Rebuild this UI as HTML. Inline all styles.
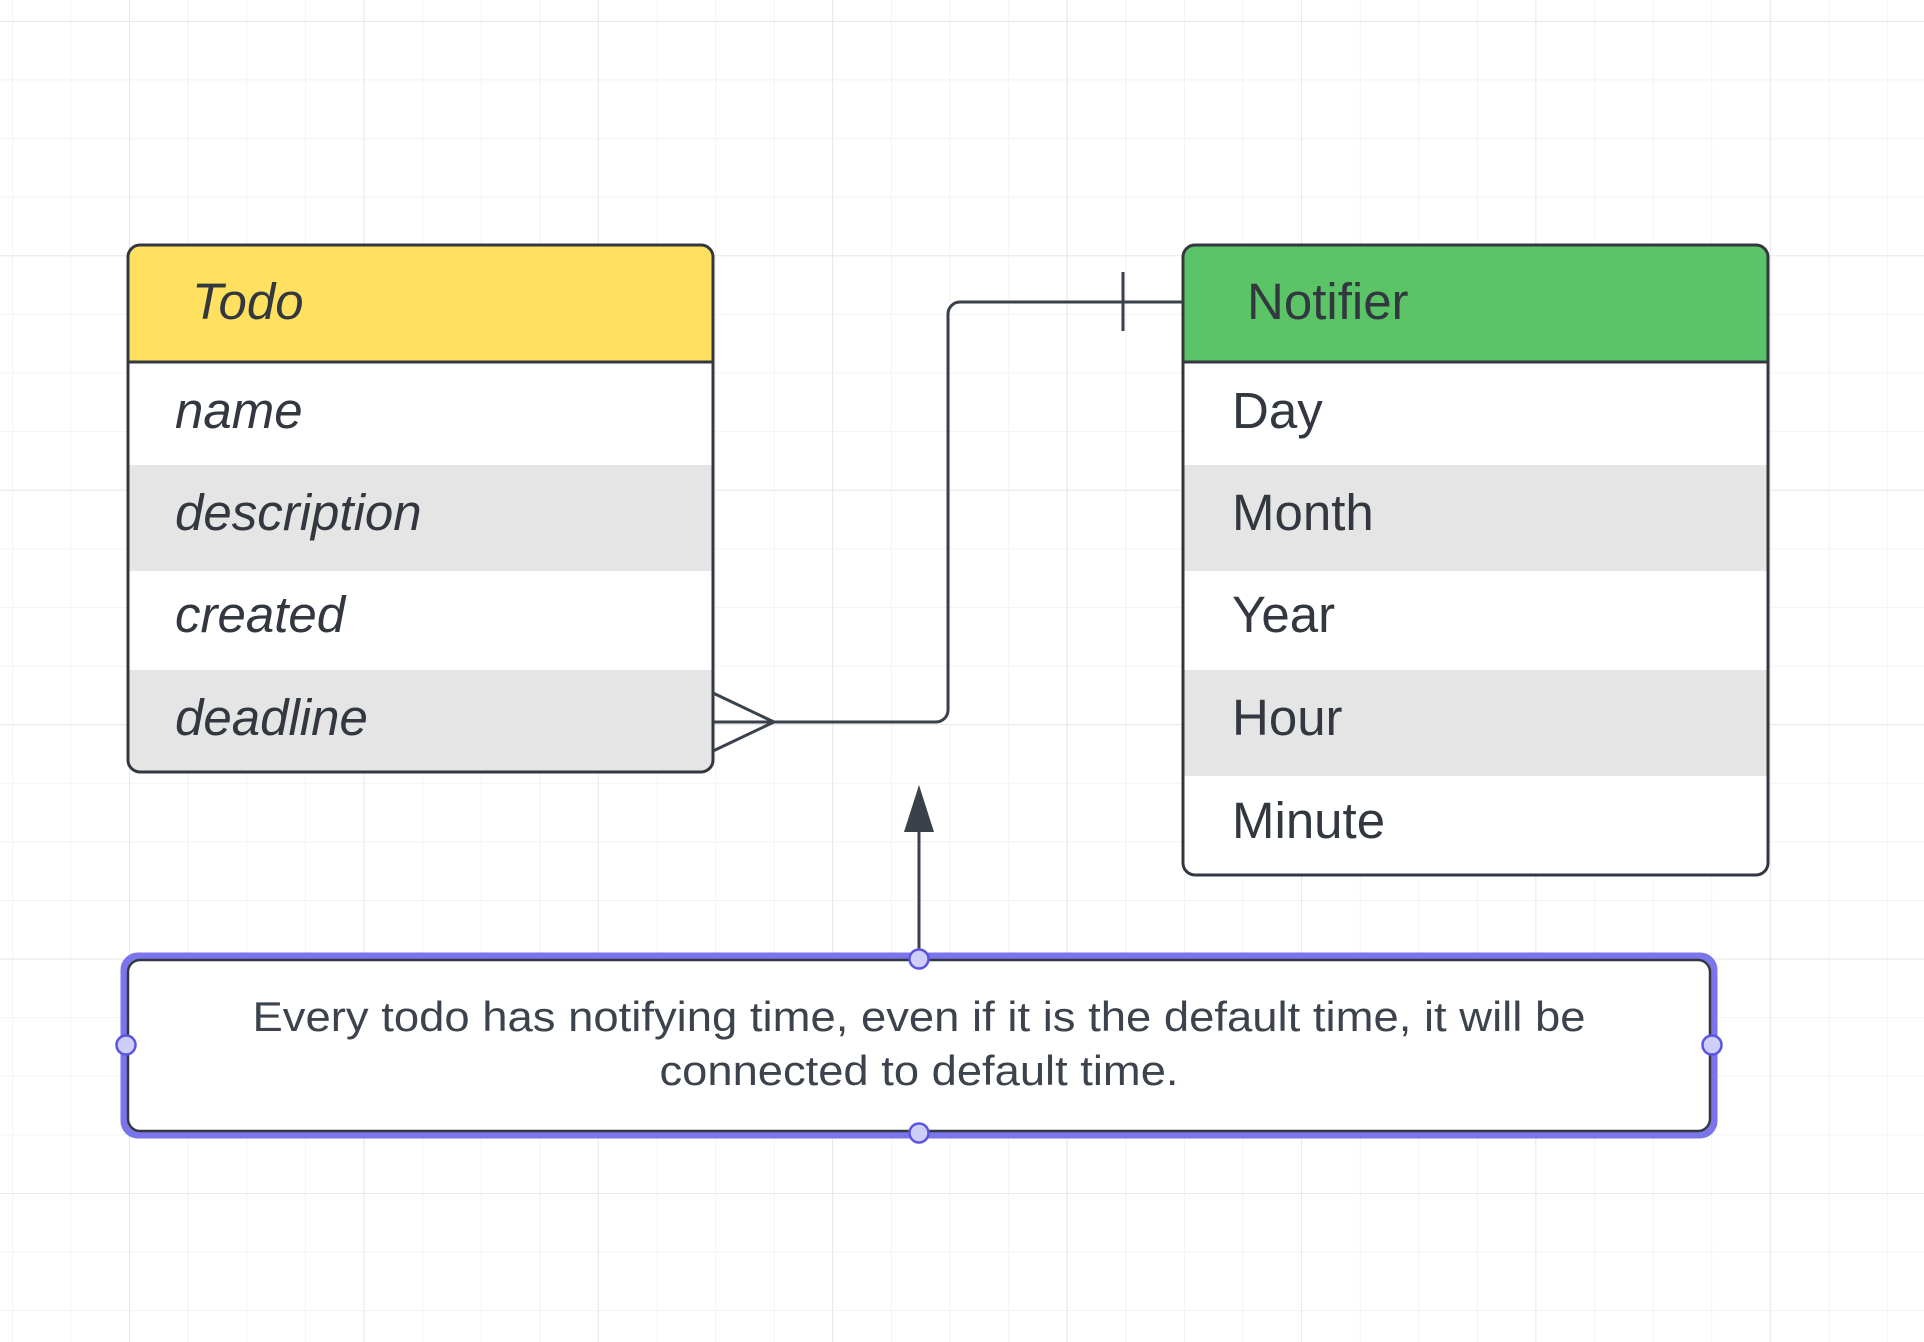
<!DOCTYPE html>
<html><head><meta charset="utf-8"><style>
html,body{margin:0;padding:0;background:#fff;}
body{width:1924px;height:1342px;overflow:hidden;position:relative;font-family:"Liberation Sans",sans-serif;}
svg{position:absolute;left:0;top:0;}
</style></head><body>
<svg width="1924" height="1342" viewBox="0 0 1924 1342" xmlns="http://www.w3.org/2000/svg">
<defs>
<pattern id="minor" x="12" y="21" width="58.6" height="58.6" patternUnits="userSpaceOnUse">
<path d="M0 0H58.6M0 0V58.6" stroke="#f0f0f0" stroke-width="1.5" fill="none"/>
</pattern>
<pattern id="major" x="129" y="21" width="234.4" height="234.4" patternUnits="userSpaceOnUse">
<path d="M0 0H234.4M0 0V234.4" stroke="#e3e3e3" stroke-width="1.5" fill="none"/>
</pattern>
</defs>
<rect width="1924" height="1342" fill="url(#minor)"/>
<rect width="1924" height="1342" fill="url(#major)"/>

<g>
<path d="M128 362V257a12 12 0 0 1 12-12H701a12 12 0 0 1 12 12V362Z" fill="#ffe15f"/>
<rect x="128" y="362" width="585" height="103" fill="#fff"/>
<rect x="128" y="465" width="585" height="106" fill="#e5e5e5"/>
<rect x="128" y="571" width="585" height="99" fill="#fff"/>
<path d="M128 670H713V760a12 12 0 0 1-12 12H140a12 12 0 0 1-12-12Z" fill="#e5e5e5"/>
<rect x="128" y="245" width="585" height="527" rx="12" fill="none" stroke="#333840" stroke-width="3"/>
<line x1="128" y1="362" x2="713" y2="362" stroke="#333840" stroke-width="3"/>
<g font-family="Liberation Sans, sans-serif" font-style="italic" font-size="51" fill="#333840">
<text x="192" y="319">Todo</text>
<text x="175" y="428">name</text>
<text x="175" y="530">description</text>
<text x="175" y="632">created</text>
<text x="175" y="735">deadline</text>
</g>
</g>

<g>
<path d="M1183 362V257a12 12 0 0 1 12-12H1756a12 12 0 0 1 12 12V362Z" fill="#5bc466"/>
<rect x="1183" y="362" width="585" height="103" fill="#fff"/>
<rect x="1183" y="465" width="585" height="106" fill="#e5e5e5"/>
<rect x="1183" y="571" width="585" height="99" fill="#fff"/>
<rect x="1183" y="670" width="585" height="106" fill="#e5e5e5"/>
<path d="M1183 776H1768V863a12 12 0 0 1-12 12H1195a12 12 0 0 1-12-12Z" fill="#fff"/>
<rect x="1183" y="245" width="585" height="630" rx="12" fill="none" stroke="#333840" stroke-width="3"/>
<line x1="1183" y1="362" x2="1768" y2="362" stroke="#333840" stroke-width="3"/>
<g font-family="Liberation Sans, sans-serif" font-size="51" fill="#333840">
<text x="1247" y="319">Notifier</text>
<text x="1232" y="428">Day</text>
<text x="1232" y="530">Month</text>
<text x="1232" y="632">Year</text>
<text x="1232" y="735">Hour</text>
<text x="1232" y="838">Minute</text>
</g>
</g>

<g stroke="#3a414a" stroke-width="3" fill="none">
<path d="M713 722H936a12 12 0 0 0 12-12V314a12 12 0 0 1 12-12H1183"/>
<path d="M713 693L774 722L713 751"/>
<line x1="1123" y1="272" x2="1123" y2="331"/>
<line x1="919" y1="832" x2="919" y2="958"/>
</g>
<polygon points="919,785 904,832 934,832" fill="#3a414a"/>

<rect x="124" y="956" width="1590" height="179" rx="14" fill="#fff" stroke="#7b75ec" stroke-width="7"/>
<rect x="128" y="960" width="1582" height="171" rx="12" fill="none" stroke="#333840" stroke-width="2.5"/>
<g font-family="Liberation Sans, sans-serif" font-size="42" fill="#3d434d" text-anchor="middle">
<text x="919" y="1031" textLength="1333" lengthAdjust="spacingAndGlyphs">Every todo has notifying time, even if it is the default time, it will be</text>
<text x="919" y="1085" textLength="519" lengthAdjust="spacingAndGlyphs">connected to default time.</text>
</g>
<g fill="#cfcdfa" stroke="#5a54e0" stroke-width="2.5">
<circle cx="919" cy="959" r="9.5"/>
<circle cx="919" cy="1133" r="9.5"/>
<circle cx="126" cy="1045" r="9.5"/>
<circle cx="1712" cy="1045" r="9.5"/>
</g>
</svg>
</body></html>
